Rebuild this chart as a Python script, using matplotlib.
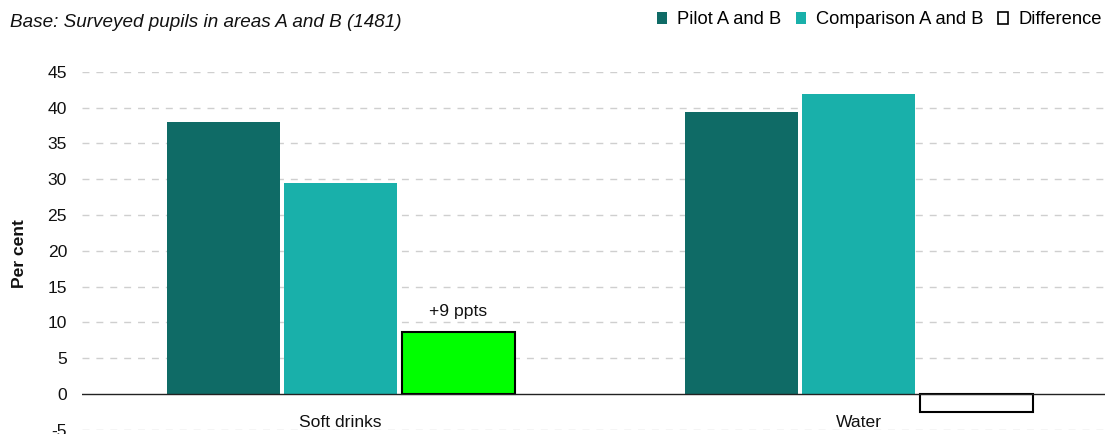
import matplotlib
matplotlib.use("Agg")
import matplotlib.pyplot as plt
from matplotlib.patches import Patch
import numpy as np

plt.rcParams["font.family"] = ["Liberation Sans", "DejaVu Sans"]

categories = ["Soft drinks", "Water"]
pilot = [38.0, 39.4]
comparison = [29.5, 41.9]
difference = [8.7, -2.5]
yticks = [-5, 0, 5, 10, 15, 20, 25, 30, 35, 40, 45]

series_labels = ["Pilot A and B", "Comparison A and B", "Difference"]
pilot_color = "#0F6B66"
comparison_color = "#19B0AA"
pos_diff_color = "#00FF00"
text_color = "#111111"
FS = 12.6

W, H = 1105, 434
fig = plt.figure(figsize=(W / 100, H / 100), dpi=100)
ax = fig.add_axes([81.7 / W, (H - 429.8) / H, 1036 / W, (429.8 - 71.7) / H])

x = np.arange(len(categories))
width = 0.218
step = 0.227

ax.bar(x - step, pilot, width, color=pilot_color, zorder=3)
ax.bar(x, comparison, width, color=comparison_color, zorder=3)
diff_colors = [pos_diff_color if v > 0 else "white" for v in difference]
ax.bar(x + step, difference, width, color=diff_colors, edgecolor="black",
       linewidth=1.5, zorder=3)

# annotate positive differences
for xi, v in zip(x, difference):
    if v > 0:
        ax.annotate(f"{v:+.0f} ppts", xy=(xi + step, v), xytext=(0, 11),
                    textcoords="offset points", ha="center", va="baseline",
                    fontsize=FS, color=text_color)

ax.set_xlim(-0.5, 1.5)
ax.set_ylim(-5, 45)
ax.set_yticks(yticks)
ax.set_yticklabels([str(t) for t in yticks], fontsize=FS, color=text_color)
ax.tick_params(axis="y", length=0, pad=10.5)
ax.set_xticks([])

for t in yticks:
    if t == 0:
        ax.axhline(0, color="#222222", linewidth=1.0, zorder=4)
    else:
        ax.axhline(t, color="#cfcfcf", linewidth=1.0, linestyle=(0, (5, 5)), zorder=1)

for spine in ax.spines.values():
    spine.set_visible(False)

# category labels sit just under the zero line
for xi, name in zip(x, categories):
    ax.annotate(name, xy=(xi, 0), xytext=(0, -24), textcoords="offset points",
                ha="center", va="baseline", fontsize=FS, color=text_color)

fig.text(19 / W, (H - 254) / H, "Per cent", rotation=90, ha="center",
         va="center", fontsize=FS, fontweight="bold", color=text_color)

fig.text(10 / W, (H - 27) / H, "Base: Surveyed pupils in areas A and B (1481)",
         ha="left", va="baseline", fontsize=13.6, style="italic", color=text_color)

handles = [
    Patch(facecolor=pilot_color, edgecolor="none"),
    Patch(facecolor=comparison_color, edgecolor="none"),
    Patch(facecolor="white", edgecolor="black", linewidth=1.2),
]
fig.legend(handles, series_labels, loc="center right",
           bbox_to_anchor=(1102 / W, (H - 20) / H), ncol=3, frameon=False,
           fontsize=13.2, handlelength=0.55, handleheight=0.55, handletextpad=0.55,
           columnspacing=0.8, borderaxespad=0, borderpad=0)

fig.savefig("out.png", dpi=100)
